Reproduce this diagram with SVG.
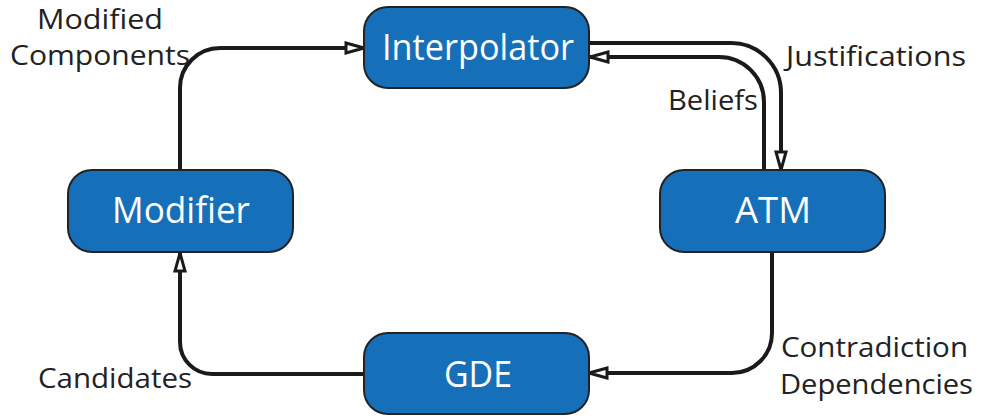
<svg xmlns="http://www.w3.org/2000/svg" width="981" height="419" viewBox="0 0 981 419">
  <style>
    .box { fill: #1670b9; stroke: #222; stroke-width: 2; }
    .ntext { fill: #fff; font-family: "Open Sans", "Noto Sans", sans-serif; font-size: 36px; text-anchor: middle; }
    .label { fill: #222; font-family: "Open Sans", "Noto Sans", sans-serif; font-size: 28px; }
    .wire { fill: none; stroke: #1a1a1a; stroke-width: 4; marker-end: url(#arrow); }
  </style>
  <defs>
    <marker id="arrow" markerUnits="userSpaceOnUse" markerWidth="24" markerHeight="16" refX="20" refY="7" orient="auto">
      <path d="M2,2 L20,7 L2,12 Z" fill="#fff" stroke="#1a1a1a" stroke-width="3" stroke-linejoin="miter"/>
    </marker>
  </defs>

  <g id="connectors">
    <path class="wire" d="M180,170 V88 A40,40 0 0 1 220,48 H364"/>
    <path class="wire" d="M589,43 H731 A50,50 0 0 1 781,93 V170"/>
    <path class="wire" d="M764,170 V102 A45,45 0 0 0 719,57 H590"/>
    <path class="wire" d="M772,252 V333 A40,40 0 0 1 732,373 H589"/>
    <path class="wire" d="M364,374 H212 A32,32 0 0 1 180,342 V253"/>
  </g>

  <g id="node-interpolator">
    <rect class="box" x="364" y="7" width="225" height="81" rx="24"/>
    <text class="ntext" x="478" y="60" textLength="192" lengthAdjust="spacingAndGlyphs">Interpolator</text>
  </g>
  <g id="node-modifier">
    <rect class="box" x="68" y="170" width="225" height="82" rx="24"/>
    <text class="ntext" x="181" y="223" textLength="138" lengthAdjust="spacingAndGlyphs">Modifier</text>
  </g>
  <g id="node-atm">
    <rect class="box" x="660" y="170" width="225" height="82" rx="24"/>
    <text class="ntext" x="773" y="223" textLength="76" lengthAdjust="spacingAndGlyphs">ATM</text>
  </g>
  <g id="node-gde">
    <rect class="box" x="364" y="333" width="225" height="81" rx="24"/>
    <text class="ntext" x="478" y="387" textLength="68" lengthAdjust="spacingAndGlyphs">GDE</text>
  </g>

  <g id="labels">
    <text class="label" x="37" y="29" font-size="27" textLength="126" lengthAdjust="spacingAndGlyphs">Modified</text>
    <text class="label" x="10" y="65" textLength="180" lengthAdjust="spacingAndGlyphs">Components</text>
    <text class="label" x="786" y="66" textLength="180" lengthAdjust="spacingAndGlyphs">Justifications</text>
    <text class="label" x="668" y="110" textLength="90" lengthAdjust="spacingAndGlyphs">Beliefs</text>
    <text class="label" x="38" y="388" textLength="154" lengthAdjust="spacingAndGlyphs">Candidates</text>
    <text class="label" x="781" y="357" textLength="187" lengthAdjust="spacingAndGlyphs">Contradiction</text>
    <text class="label" x="780" y="394" textLength="193" lengthAdjust="spacingAndGlyphs">Dependencies</text>
  </g>
</svg>
